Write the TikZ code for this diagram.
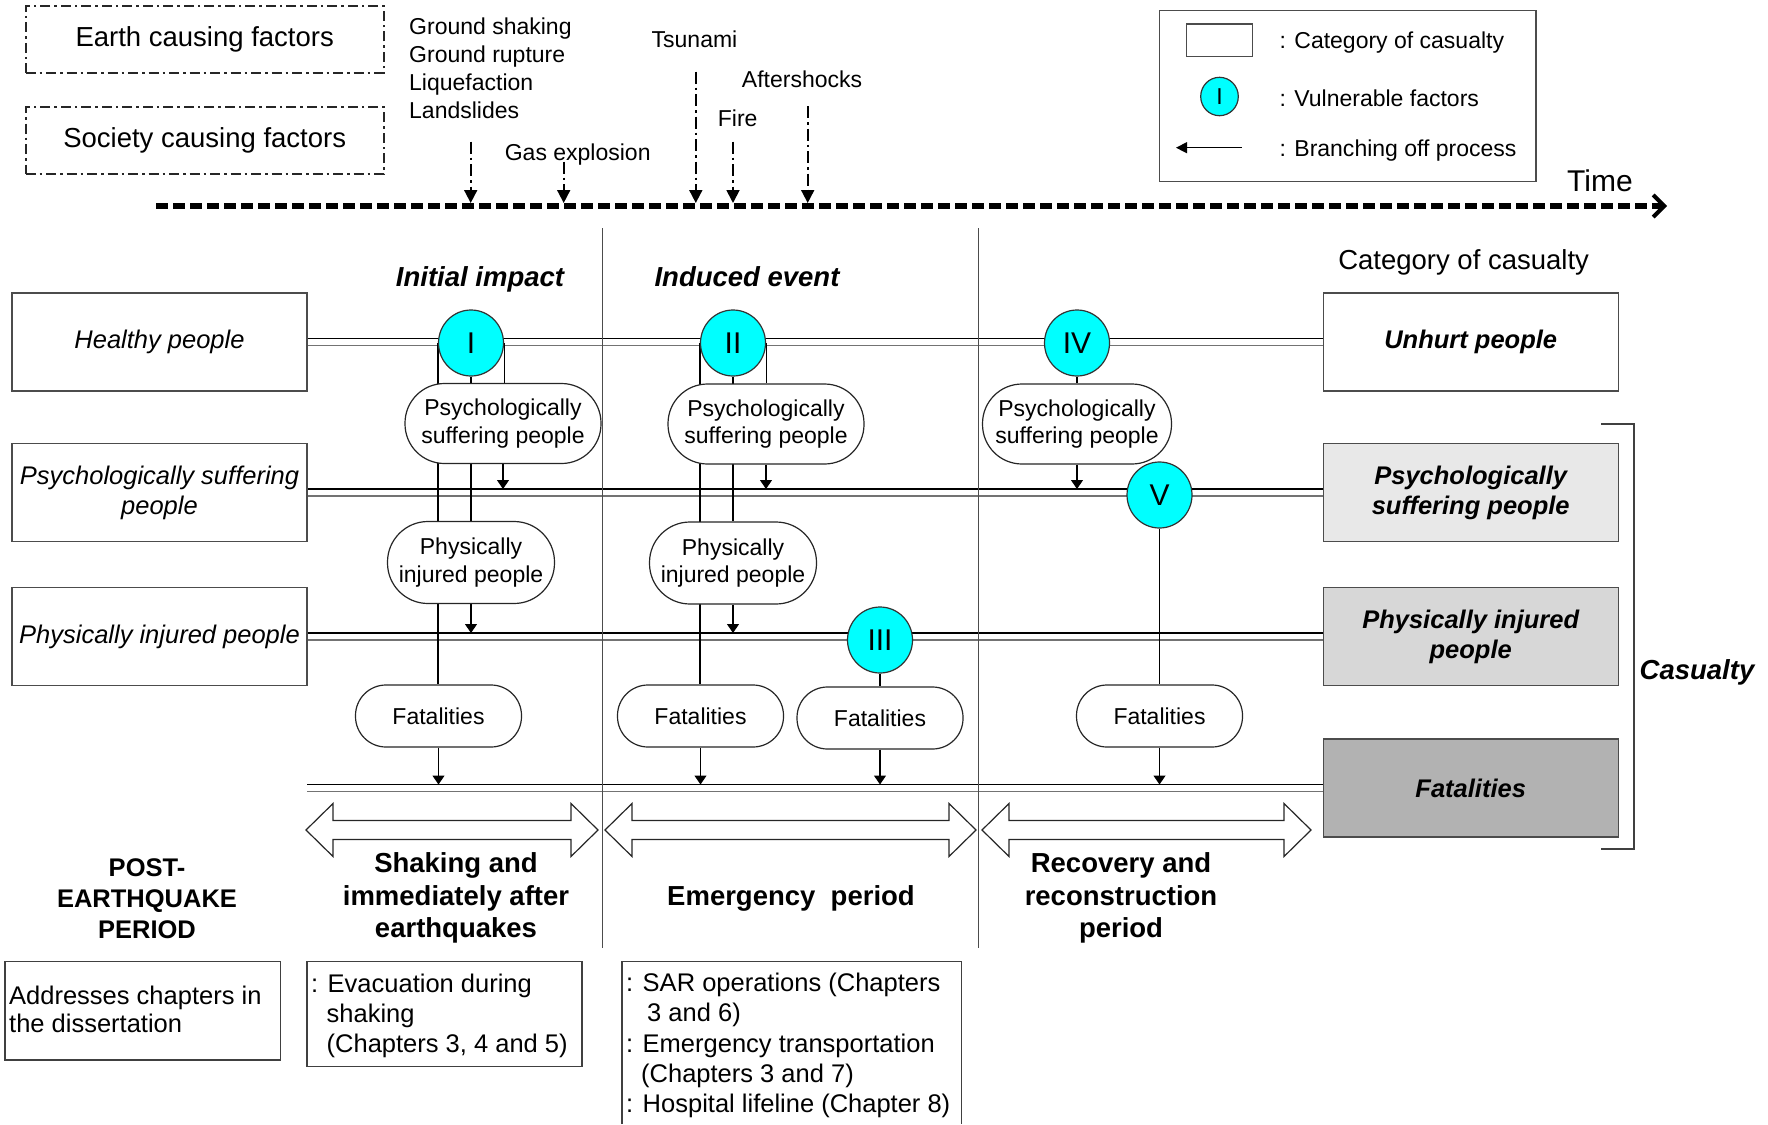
\documentclass[tikz,border=0pt]{standalone}
\usepackage{fontspec}
\setmainfont{Liberation Sans}
\usetikzlibrary{arrows.meta,shapes.geometric,backgrounds}
\newcommand{\fszA}{\fontsize{23pt}{27.7pt}\selectfont}
\newcommand{\fszB}{\fontsize{25.5pt}{30pt}\selectfont}
\newcommand{\fszC}{\fontsize{27.5pt}{32.8pt}\selectfont}
\newcommand{\fszD}{\fontsize{30pt}{36pt}\selectfont}
\newcommand{\fszP}{\fontsize{25.5pt}{31pt}\selectfont}
\definecolor{fillA}{HTML}{E8E8E8}
\definecolor{fillB}{HTML}{D7D7D7}
\definecolor{fillC}{HTML}{B2B2B2}
\definecolor{vfcyan}{RGB}{0,255,255}
\newcommand{\dblarr}[3]{%
  \draw[draw=black!85,line width=1.2pt] (#1,#3) -- ({#1+27},{#3-26.5}) -- ({#1+27},{#3-9.5})
    -- ({#2-27},{#3-9.5}) -- ({#2-27},{#3-26.5}) -- (#2,#3) -- ({#2-27},{#3+26.5})
    -- ({#2-27},{#3+9.5}) -- ({#1+27},{#3+9.5}) -- ({#1+27},{#3+26.5}) -- cycle;}
\tikzset{
  lbl/.style={inner sep=0pt, font=\fszA},
  facbox/.style={draw=black!85, line width=1.6pt, dash pattern=on 10pt off 4pt on 2.5pt off 4pt,
    minimum width=358pt, minimum height=67pt, inner sep=0pt, font=\fszC},
  evarr/.style={line width=1.8pt, dash pattern=on 12pt off 4pt on 2.5pt off 4pt,
    -{Triangle[length=13pt,width=13pt]}},
  taxis/.style={line width=6pt, dash pattern=on 12pt off 5pt,
    -{Straight Barb[length=11pt,width=22pt,line width=4pt]}},
  lgbox/.style={draw=black!70, line width=1.3pt, inner sep=0pt},
  catL/.style={draw=black!70, line width=1.3pt, minimum width=295pt, minimum height=98pt,
    inner sep=0pt, align=center, font=\fszB\itshape},
  catR/.style={catL, font=\fszB\bfseries\itshape},
  vf/.style={ellipse, draw=black!80, line width=1.2pt, fill=vfcyan, minimum width=65pt,
    minimum height=66pt, inner sep=0pt, font=\fszD},
  grp/.style={rectangle, draw=black!85, line width=1.2pt, fill=white, inner sep=0pt,
    align=center, font=\fszA},
  grpA/.style={grp, minimum width=196pt, minimum height=80pt, rounded corners=39.5pt},
  grpB/.style={grp, minimum width=167pt, minimum height=82pt, rounded corners=40.5pt},
  grpC/.style={grp, minimum width=166pt, minimum height=62pt, rounded corners=30.5pt},
  conn/.style={line width=1.2pt},
  arr/.style={line width=1.2pt, -{Triangle[length=9pt,width=12pt]}},
  laneU/.style={line width=1.2pt, black},
  laneD/.style={line width=1.8pt, black!55},
  per/.style={line width=1.2pt, black!70},
  blk/.style={draw=black!75, line width=1.3pt},
  hd/.style={inner sep=0pt, font=\fszC\bfseries\itshape},
  prd/.style={inner sep=0pt, align=center, font=\fszC\bfseries},
  bt/.style={inner sep=0pt, font=\fszB, anchor=base west},
  bbox/.style={draw=black!75, line width=1.3pt, inner sep=0pt},
}
\begin{document}
\begin{tikzpicture}[x=1pt,y=-1pt]
\useasboundingbox (0,0) rectangle (1768,1124);

% top-left factor boxes
\node[facbox] (earth) at (204.7,39.3) {Earth causing factors};
\node[facbox] (society) at (204.7,140.5) {Society causing factors};

% event labels
\node[lbl,anchor=base west] (gs1) at (409,35) {Ground shaking};
\node[lbl,anchor=base west] (gs2) at (409,62.5) {Ground rupture};
\node[lbl,anchor=base west] (gs3) at (409,90) {Liquefaction};
\node[lbl,anchor=base west] (gs4) at (409,118.3) {Landslides};
\node[lbl,anchor=base] (tsu) at (694.5,47.6) {Tsunami};
\node[lbl,anchor=base] (aft) at (802,87.5) {Aftershocks};
\node[lbl,anchor=base] (fire) at (737.7,126) {Fire};
\node[lbl,anchor=base] (gas) at (577.7,160) {Gas explosion};
\node[inner sep=0pt,font=\fszD,anchor=base] (time) at (1600,191) {Time};

% event arrows and time axis
\coordinate (e1s) at (470.7,141.7); \coordinate (e1e) at (470.7,203);
\coordinate (e2s) at (563.7,161.7); \coordinate (e2e) at (563.7,203);
\coordinate (e3s) at (695.8,71.7);  \coordinate (e3e) at (695.8,203);
\coordinate (e4s) at (733,141.7);   \coordinate (e4e) at (733,203);
\coordinate (e5s) at (807.7,106);   \coordinate (e5e) at (807.7,203);
\coordinate (axS) at (156,206); \coordinate (axE) at (1667,206);
\draw[taxis] (axS) -- (axE);
\draw[evarr] (e1s) -- (e1e);
\draw[evarr] (e2s) -- (e2e);
\draw[evarr] (e3s) -- (e3e);
\draw[evarr] (e4s) -- (e4e);
\draw[evarr] (e5s) -- (e5e);

% legend
\node[lgbox, minimum width=376.7pt, minimum height=171pt] (legend) at (1347.6,96.2) {};
\node[lgbox, minimum width=65.6pt, minimum height=32.7pt] (legrect) at (1219.5,40.3) {};
\node[vf, minimum width=37.6pt, minimum height=38.4pt, font=\fszA] (legvf) at (1219.5,96.5) {I};
\coordinate (legaS) at (1241.7,147.7); \coordinate (legaE) at (1176,147.7);
\draw[line width=1.3pt, -{Triangle[length=11pt,width=11pt]}] (legaS) -- (legaE);
\node[lbl,anchor=base west] (leg1) at (1279.3,48.3) {: Category of casualty};
\node[lbl,anchor=base west] (leg2) at (1279.3,106.6) {: Vulnerable factors};
\node[lbl,anchor=base west] (leg3) at (1279.3,156) {: Branching off process};

% headers
\node[hd,anchor=base] (hInit) at (480,286) {Initial impact};
\node[hd,anchor=base] (hInd) at (747,286) {Induced event};
\node[inner sep=0pt,font=\fszC,anchor=base] (hCat) at (1463.6,269) {Category of casualty};

% left category boxes
\node[catL] (lH) at (159.5,342) {Healthy people};
\node[catL] (lPs) at (159.5,492.5) {Psychologically suffering\\people};
\node[catL] (lPh) at (159.5,636.5) {Physically injured people};
\coordinate (l4L) at (307,788);

% right category boxes
\node[catR] (rU) at (1470.7,342) {Unhurt people};
\node[catR, fill=fillA] (rPs) at (1470.7,492.5) {Psychologically\\suffering people};
\node[catR, fill=fillB] (rPh) at (1470.7,636.5) {Physically injured\\people};
\node[catR, fill=fillC] (rF) at (1470.7,788) {Fatalities};

% vulnerable factors
\node[vf] (vI) at (471,343) {I};
\node[vf] (vII) at (733,343) {II};
\node[vf] (vIV) at (1077,343) {IV};
\node[vf] (vV) at (1159.5,495) {V};
\node[vf] (vIII) at (880,640) {III};

% groups
\node[grpA] (psI) at (503,423.5) {Psychologically\\suffering people};
\node[grpB] (phI) at (471,562.5) {Physically\\injured people};
\node[grpC] (fI) at (438.5,716) {Fatalities};
\node[grpA] (psII) at (766,424) {Psychologically\\suffering people};
\node[grpB] (phII) at (733,563) {Physically\\injured people};
\node[grpC] (fIIa) at (700.5,716) {Fatalities};
\node[grpC] (fIIb) at (880,718) {Fatalities};
\node[grpA, minimum width=189pt] (psIV) at (1077,424) {Psychologically\\suffering people};
\node[grpC] (fV) at (1159.5,716) {Fatalities};

% casualty bracket
\draw[blk] (1601,424) -- (1634,424) -- (1634,849) -- (1601,849);
\node[hd,anchor=base] (cas) at (1697,679) {Casualty};

% periods
\dblarr{306}{598}{830}
\dblarr{605}{976}{830}
\dblarr{982}{1311}{830}
\node[prd, font=\fszP\bfseries] (post) at (147,899) {POST-\\EARTHQUAKE\\PERIOD};
\node[prd] (shk) at (456,898) {Shaking and\\immediately after\\earthquakes};
\node[prd] (emg) at (791,898) {Emergency~ period};
\node[prd] (rec) at (1121,898) {Recovery and\\reconstruction\\period};

% bottom boxes
\node[bbox, minimum width=275.6pt, minimum height=98.3pt] (bx1) at (142.8,1010.9) {};
\node[bt] (bx1a) at (9,1004) {Addresses chapters in};
\node[bt] (bx1b) at (9,1032) {the dissertation};
\node[bbox, minimum width=275pt, minimum height=105pt] (bx2) at (444.5,1014.2) {};
\node[bt] (bx2a) at (311,992) {: Evacuation during};
\node[bt] (bx2b) at (326.5,1022) {shaking};
\node[bt] (bx2c) at (326.5,1052) {(Chapters 3, 4 and 5)};
\draw[bbox] (622,1124) -- (622,961.7) -- (961.7,961.7) -- (961.7,1124);
\node[bt] (bx3a) at (626,991) {: SAR operations (Chapters};
\node[bt] (bx3b) at (647,1021) {3 and 6)};
\node[bt] (bx3c) at (626,1052) {: Emergency transportation};
\node[bt] (bx3d) at (641,1082) {(Chapters 3 and 7)};
\node[bt] (bx3e) at (626,1112) {: Hospital lifeline (Chapter 8)};

\coordinate (L2u) at (0,489);
\coordinate (L3u) at (0,633);
\coordinate (L4u) at (0,784.5);
\coordinate (p1t) at (602.7,228); \coordinate (p1b) at (602.7,948);
\coordinate (p2t) at (978.6,228); \coordinate (p2b) at (978.6,948);

\begin{scope}[on background layer]
  % lanes
  \draw[laneU] ([yshift=3.5pt]lH.east) -- ([yshift=3.5pt]rU.west);
  \draw[laneD] ([yshift=-3.5pt]lH.east) -- ([yshift=-3.5pt]rU.west);
  \draw[laneU] ([yshift=3.5pt]lPs.east) -- ([yshift=3.5pt]rPs.west);
  \draw[laneD] ([yshift=-3.5pt]lPs.east) -- ([yshift=-3.5pt]rPs.west);
  \draw[laneU] ([yshift=3.5pt]lPh.east) -- ([yshift=3.5pt]rPh.west);
  \draw[laneD] ([yshift=-3.5pt]lPh.east) -- ([yshift=-3.5pt]rPh.west);
  \draw[laneU] ([yshift=3.5pt]l4L) -- ([yshift=3.5pt]rF.west);
  \draw[laneD] ([yshift=-3.5pt]l4L) -- ([yshift=-3.5pt]rF.west);
  % period separators
  \draw[per] (p1t) -- (p1b);
  \draw[per] (p2t) -- (p2b);
  % column I
  \draw[conn] (vI.west) -- (vI.west |- fI.north);
  \draw[conn] (vI.east) -- (vI.east |- psI.north);
  \draw[conn] (vI.south) -- (vI.south |- phI.north);
  \draw[arr] (psI.south) -- (psI.south |- L2u);
  \draw[arr] (phI.south) -- (phI.south |- L3u);
  \draw[arr] (fI.south) -- (fI.south |- L4u);
  % column II
  \draw[conn] (vII.west) -- (vII.west |- fIIa.north);
  \draw[conn] (vII.east) -- (vII.east |- psII.north);
  \draw[conn] (vII.south) -- (vII.south |- phII.north);
  \draw[arr] (psII.south) -- (psII.south |- L2u);
  \draw[arr] (phII.south) -- (phII.south |- L3u);
  \draw[arr] (fIIa.south) -- (fIIa.south |- L4u);
  % III
  \draw[conn] (vIII.south) -- (vIII.south |- fIIb.north);
  \draw[arr] (fIIb.south) -- (fIIb.south |- L4u);
  % IV
  \draw[conn] (vIV.south) -- (vIV.south |- psIV.north);
  \draw[arr] (psIV.south) -- (psIV.south |- L2u);
  % V
  \draw[conn] (vV.south) -- (vV.south |- fV.north);
  \draw[arr] (fV.south) -- (fV.south |- L4u);
\end{scope}
\end{tikzpicture}
\end{document}
